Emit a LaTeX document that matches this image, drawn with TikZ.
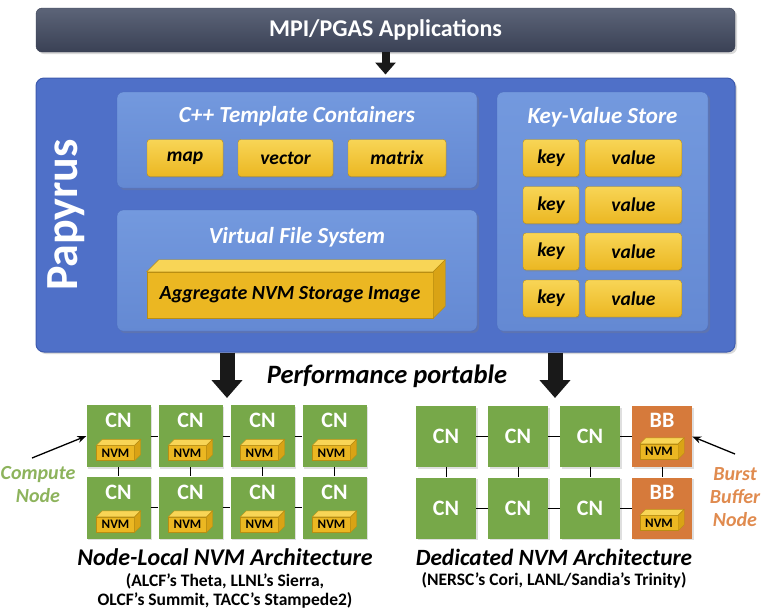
\documentclass[tikz,border=0pt]{standalone}
\usepackage{fontspec}
\setmainfont{Carlito}
\usetikzlibrary{arrows.meta,shadows,calc}
\definecolor{barTop}{HTML}{5C6478}
\definecolor{barBot}{HTML}{3A4155}
\definecolor{papBlue}{HTML}{4F70C8}
\definecolor{papEdge}{HTML}{3D5AAE}
\definecolor{inTop}{HTML}{7399DE}
\definecolor{inBot}{HTML}{6489D3}
\definecolor{inEdge}{HTML}{4E6EBE}
\definecolor{yTop}{HTML}{F8D556}
\definecolor{yBot}{HTML}{EBB722}
\definecolor{yEdge}{HTML}{B98E12}
\definecolor{ySide}{HTML}{D9A315}
\definecolor{cnGreen}{HTML}{77A849}
\definecolor{bbOrange}{HTML}{D67A3B}
\definecolor{cnLabel}{HTML}{8DB35C}
\definecolor{bbLabel}{HTML}{E08B4F}
\newcommand\myfs[1]{\fontsize{#1}{#1}\selectfont}
\newcommand\nvmcube[2]{%
  \filldraw[fill=yTop,draw=yEdge,line width=0.4pt] (#1.north west) -- ++(#2,-#2) -- ($(#1.north east)+(#2,-#2)$) -- (#1.north east) -- cycle;
  \filldraw[fill=ySide,draw=yEdge,line width=0.4pt] (#1.north east) -- ++(#2,-#2) -- ($(#1.south east)+(#2,-#2)$) -- (#1.south east) -- cycle;
}
\tikzset{
  softshadow/.style={drop shadow={opacity=0.3,shadow xshift=2pt,shadow yshift=-2pt}},
  appbar/.style={rounded corners=6pt,top color=barTop,bottom color=barBot,draw=barBot,
    minimum width=699pt,minimum height=44pt,text=white,font=\myfs{24}\bfseries,softshadow},
  papybox/.style={rounded corners=8pt,fill=papBlue,draw=papEdge,line width=1pt,
    minimum width=699pt,minimum height=274pt,softshadow},
  innerbox/.style={rounded corners=6pt,top color=inTop,bottom color=inBot,draw=inEdge,
    inner sep=0pt,softshadow},
  titletext/.style={text=white,font=\myfs{23}\bfseries\itshape,inner sep=0pt},
  ybox/.style={rounded corners=3pt,top color=yTop,bottom color=yBot,draw=yEdge,
    font=\myfs{19.5}\bfseries\itshape,inner sep=0pt,minimum height=37pt,
    drop shadow={opacity=0.3,shadow xshift=1pt,shadow yshift=-1.5pt}},
  cnbox/.style={fill=cnGreen,minimum width=64pt,minimum height=62pt,inner sep=0pt,
    drop shadow={opacity=0.25,shadow xshift=1.5pt,shadow yshift=-1.5pt}},
  rcnbox/.style={cnbox,minimum width=60pt,minimum height=61pt},
  bbbox/.style={rcnbox,fill=bbOrange},
  cntext/.style={text=white,font=\myfs{22}\bfseries,inner sep=0pt},
  nvmfront/.style={fill=yBot,draw=yEdge,line width=0.4pt,font=\myfs{13}\bfseries,
    minimum width=38pt,minimum height=15pt,inner sep=0pt},
  link/.style={line width=1pt,black},
  bigarrow/.style={line width=15pt,draw=black!90,-{Triangle[length=18pt,width=30pt]}},
  thinarrow/.style={line width=1.3pt,-{Stealth[length=9pt,width=7pt]}},
  caption/.style={font=\myfs{24}\bfseries\itshape,inner sep=0pt},
  subcaption/.style={font=\myfs{17.5}\bfseries,inner sep=0pt,align=center},
}
\begin{document}
\begin{tikzpicture}[x=1pt,y=-1pt]
\useasboundingbox (0,0) rectangle (762,614);
% top bar
\node[appbar] (app) at (385.5,30) {MPI/PGAS Applications};
% papyrus box
\node[papybox] (pap) at (385.5,215) {};
\node[text=white,font=\myfs{46}\bfseries,rotate=90,inner sep=0pt] (papt) at (66,215) {Papyrus};
\draw[line width=8pt,draw=black!90,-{Triangle[length=12pt,width=20pt]}] (app.south) -- ($(pap.north)+(0,-3)$);
% C++ containers
\node[innerbox,minimum width=360pt,minimum height=96pt] (cpp) at (297,140) {};
\node[titletext] (cppt) at (297,116) {C++ Template Containers};
\node[ybox,minimum width=76pt] (map) at (185,158) {map};
\node[ybox,minimum width=95pt] (vec) at (285.5,158) {vector};
\node[ybox,minimum width=98pt] (mat) at (397,158) {matrix};
% VFS
\node[innerbox,minimum width=360pt,minimum height=121pt] (vfs) at (297,270.5) {};
\node[titletext] (vfst) at (297,237) {Virtual File System};
\node[fill=yBot,draw=yEdge,line width=0.5pt,minimum width=286pt,minimum height=46pt,inner sep=0pt,
  font=\myfs{20}\bfseries\itshape] (agg) at (290,295) {Aggregate NVM Storage Image};
\nvmcube{agg}{12}
% KV store
\node[innerbox,minimum width=211pt,minimum height=239pt] (kv) at (602.5,211.5) {};
\node[titletext] (kvt) at (602.5,117) {Key-Value Store};
\foreach \i/\y in {1/158,2/205,3/251.5,4/298.5}{
  \node[ybox,minimum width=56pt] (k\i) at (551,\y) {key};
  \node[ybox,minimum width=96pt] (v\i) at (633.5,\y) {value};
}
% arrows down
\coordinate (la) at (227,398);
\coordinate (ra) at (555,398);
\draw[bigarrow] (la |- pap.south) -- (la);
\draw[bigarrow] (ra |- pap.south) -- (ra);
\node[font=\myfs{26.5}\bfseries\itshape,inner sep=0pt] (perf) at (387,376) {Performance portable};
% left grid
\foreach \c/\x in {1/118.5,2/190.5,3/262.5,4/334.5}{
  \foreach \r/\y in {1/436,2/507.5}{
    \node[cnbox] (L\r\c) at (\x,\y) {};
    \node[cntext] (LT\r\c) at ($(L\r\c.north)+(0,16)$) {CN};
    \node[nvmfront] (NL\r\c) at ($(L\r\c.center)+(-3,17)$) {NVM};
    \nvmcube{NL\r\c}{6}
  }
}
\foreach \r in {1,2}{
  \foreach \c [evaluate=\c as \n using int(\c+1)] in {1,2,3}{
    \draw[link] (L\r\c.east) -- (L\r\n.west);
  }
}
\foreach \c in {1,2,3,4}{
  \draw[link] (L1\c.south) -- (L2\c.north);
}
% right grid
\foreach \r/\y in {1/436.5,2/508}{
  \foreach \c/\x in {1/446,2/518,3/590}{
    \node[rcnbox] (R\r\c) at (\x,\y) {};
    \node[cntext] (RT\r\c) at (R\r\c.center) {CN};
  }
  \node[bbbox] (R\r4) at (662,\y) {};
  \node[cntext] (RT\r4) at ($(R\r4.north)+(0,15)$) {BB};
  \node[nvmfront] (NR\r) at ($(R\r4.center)+(-3,15)$) {NVM};
  \nvmcube{NR\r}{6}
}
\foreach \r in {1,2}{
  \foreach \c [evaluate=\c as \n using int(\c+1)] in {1,2,3}{
    \draw[link] (R\r\c.east) -- (R\r\n.west);
  }
}
\foreach \c in {1,2,3,4}{
  \draw[link] (R1\c.south) -- (R2\c.north);
}
% labels and pointers
\node[text=cnLabel,font=\myfs{20}\bfseries\itshape,align=center,inner sep=0pt] (cnl) at (38,485) {Compute\\[3pt]Node};
\node[text=bbLabel,font=\myfs{20}\bfseries\itshape,align=center,inner sep=0pt] (bbl) at (735,497) {Burst\\[3pt]Buffer\\[3pt]Node};
\coordinate (ca) at (32,458);
\coordinate (ba) at (735,454);
\draw[thinarrow] (ca) -- (L11.west);
\draw[thinarrow] (ba) -- (R14.east);
% captions
\node[caption] (capl) at (225,557) {Node-Local NVM Architecture};
\node[subcaption] (subl) at (225,591) {(ALCF’s Theta, LLNL’s Sierra,\\[2pt]OLCF’s Summit, TACC’s Stampede2)};
\node[caption,font=\myfs{23.3}\bfseries\itshape] (capr) at (554,557) {Dedicated NVM Architecture};
\node[subcaption] (subr) at (554,580) {(NERSC’s Cori, LANL/Sandia’s Trinity)};
\end{tikzpicture}
\end{document}
